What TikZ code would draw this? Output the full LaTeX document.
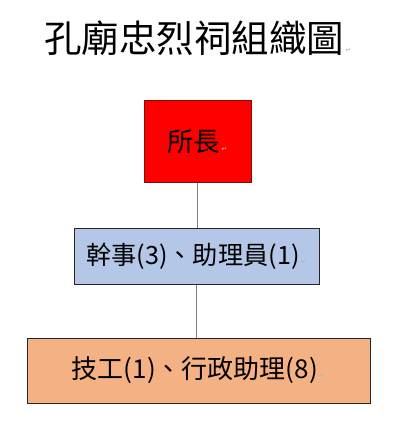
\documentclass[tikz,border=0pt]{standalone}
\usepackage{fontspec}
\setmainfont{Noto Sans CJK TC}
\newfontfamily\markfont{DejaVu Sans}
\definecolor{boxred}{HTML}{FF0000}
\definecolor{boxredline}{HTML}{7A1010}
\definecolor{boxblue}{HTML}{B4C7E7}
\definecolor{boxorange}{HTML}{F4B183}
\definecolor{linegray}{HTML}{808080}
\newcommand{\pmark}{{\markfont\fontsize{7}{7}\selectfont\color{gray!60}\,↵}}
\begin{document}
\begin{tikzpicture}[x=1pt,y=-1pt,
  orgbox/.style={draw, line width=1pt, inner sep=0pt, align=center},
  conn/.style={draw=linegray, line width=0.8pt}]
\useasboundingbox (0,0) rectangle (400,422);
\node[inner sep=0pt] (title) at (198,38) {\fontsize{37.5}{42}\selectfont 孔廟忠烈祠組織圖\pmark};
\node[orgbox, fill=boxred, draw=boxredline, minimum width=107pt, minimum height=81pt] (head) at (197.5,141.5)
  {\fontsize{26.5}{30}\selectfont 所長\pmark};
\node[orgbox, fill=boxblue, draw=black!85, minimum width=245pt, minimum height=56pt] (mid) at (196.5,256)
  {\fontsize{25.2}{28}\selectfont 幹事(3)、助理員(1)\pmark};
\node[orgbox, fill=boxorange, draw=black!85, minimum width=343pt, minimum height=65pt] (low) at (198.5,370.5)
  {\fontsize{26}{29}\selectfont 技工(1)、行政助理(8)\pmark};
\draw[conn] (head.south) -- (head.south |- mid.north);
\draw[conn] (mid.south) -- (mid.south |- low.north);
\end{tikzpicture}
\end{document}
